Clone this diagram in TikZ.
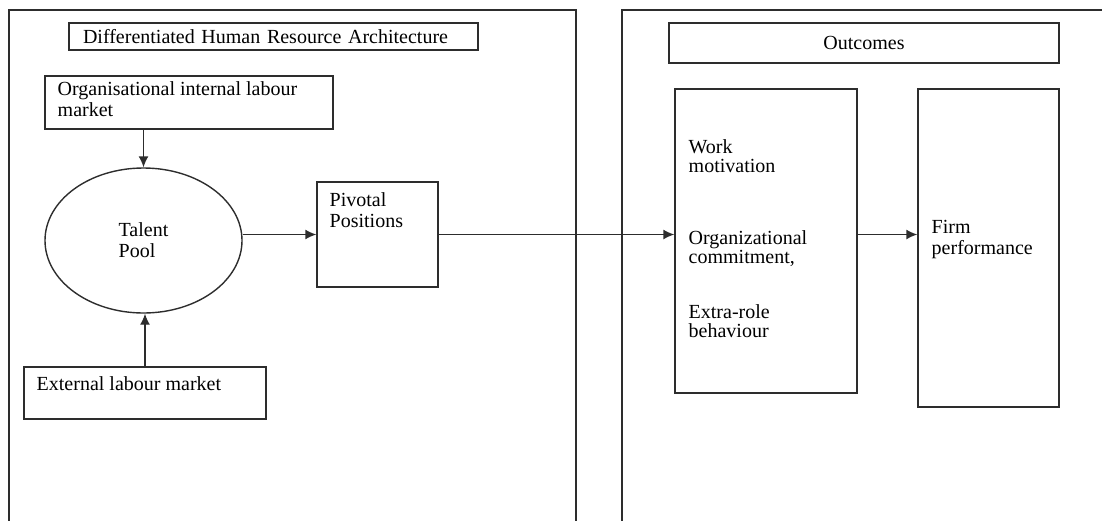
\documentclass[tikz,border=0pt]{standalone}
\usepackage{fontspec}
\setmainfont{Liberation Serif}
\usetikzlibrary{shapes,arrows.meta,positioning,calc}
\definecolor{linegray}{RGB}{45,45,45}

\begin{document}
\begin{tikzpicture}[x=0.5pt, y=-0.5pt, every node/.style={font=\fontsize{10}{10.5}\selectfont},
    box/.style={rectangle, draw=linegray, line width=0.7pt, inner sep=0pt},
    txt/.style={anchor=north west, align=left, inner sep=0pt},
    frame/.style={draw=linegray, line width=0.9pt},
    arr/.style={-{Latex[length=5.5pt,width=5pt]}, line width=0.7pt, color=linegray}]
    \useasboundingbox (0,0) rectangle (1102,520);

    % Panels
    \draw[frame] (9,540) -- (9,10) -- (576,10) -- (576,540);
    \draw[frame] (622,540) -- (622,10) -- (1120,10);

    % Differentiated HR architecture
    \node[box, minimum width=204.5pt, minimum height=13.5pt, text width=190.5pt, inner xsep=7pt, align=left] (hrarch) at (273.5,36.5) {Differentiated Human Resource Architecture};
    \node[box, minimum width=144pt, minimum height=26.5pt] (intmarket) at (189,102.5) {};
    \node[txt] (intmarkettxt) at ($(intmarket.north west)+(13,6)$) {Organisational internal labour\\market};
    \node[box, ellipse, minimum width=98.5pt, minimum height=72.5pt, align=left] (talent) at (143.5,240.5) {Talent\\Pool};
    \node[box, minimum width=60.5pt, minimum height=52.5pt] (pivotal) at (377.5,234.5) {};
    \node[txt] (pivotaltxt) at ($(pivotal.north west)+(13,11)$) {Pivotal\\Positions};
    \node[box, minimum width=121pt, minimum height=26pt] (extmarket) at (145,393) {};
    \node[txt] (extmarkettxt) at ($(extmarket.north west)+(13,10)$) {External labour market};

    % Outcomes
    \node[box, minimum width=195pt, minimum height=20pt] (outcomes) at (864,43) {Outcomes};
    \node[box, minimum width=91pt, minimum height=152pt] (mediators) at (766,241) {};
    \node[txt, font=\fontsize{10}{9.5}\selectfont] (mediatorstxt) at ($(mediators.north west)+(14,51)$) {Work\\motivation\\[26.5pt]Organizational\\commitment,\\[18pt]Extra-role\\behaviour};
    \node[box, minimum width=70.5pt, minimum height=159pt] (firm) at (988.5,248) {};
    \node[txt] (firmtxt) at ($(firm.north west)+(14,132)$) {Firm\\performance};

    % Arrows
    \draw[arr] (talent.north |- intmarket.south) -- (talent.north);
    \draw[arr] (extmarket.north) -- (extmarket.north |- talent.south);
    \draw[arr] (talent.east |- pivotal.west) -- (pivotal.west);
    \draw[arr] (pivotal.east) -- (pivotal.east -| mediators.west);
    \draw[arr] (pivotal.east -| mediators.east) -- (pivotal.east -| firm.west);
\end{tikzpicture}
\end{document}
